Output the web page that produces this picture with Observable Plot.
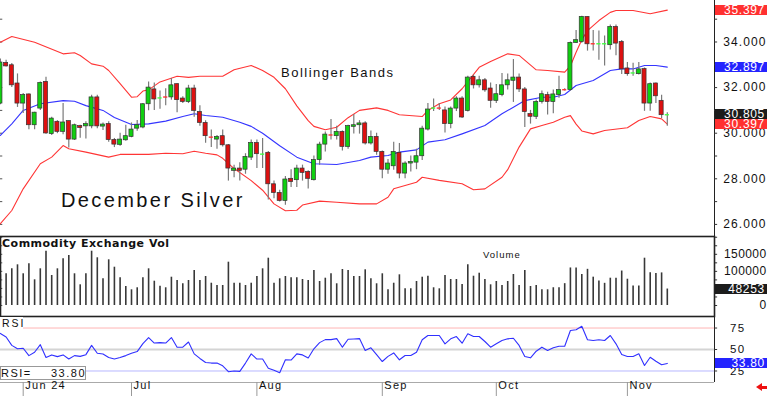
<!DOCTYPE html>
<html><head><meta charset="utf-8">
<script src="https://cdn.jsdelivr.net/npm/d3@7"></script>
<script src="https://cdn.jsdelivr.net/npm/@observablehq/plot@0.6"></script>
<style>
body{margin:0;background:#fff;}
#wrap{position:relative;width:768px;height:396px;overflow:hidden;background:#fff;font-family:"Liberation Sans",Arial,sans-serif;color:#111;}
#wrap svg{position:absolute;left:0;overflow:visible;}
#price text{letter-spacing:1.1px;}
#vol text{letter-spacing:0.4px;}
#rsi text{letter-spacing:1.3px;}
.lbl{position:absolute;white-space:nowrap;}
.tag{position:absolute;left:715px;width:52px;box-sizing:border-box;padding-right:2px;height:10px;color:#fff;font-size:12px;line-height:10px;text-align:right;letter-spacing:0.7px;overflow:visible;white-space:nowrap;}
</style></head><body><div id="wrap"></div>
<script>
// ---- data (bar k = trading day; k=4 is first June bar) ----
const open = [31.30,33.08,32.98,32.18,
31.30,31.70,30.35,31.08,32.25,29.96,30.50,30.06,30.53,29.72,
30.31,30.30,30.30,31.57,30.29,30.40,29.70,29.49,29.69,29.84,
30.20,30.25,31.27,31.92,31.50,31.58,31.57,32.15,31.52,31.37,
31.96,30.93,30.45,29.83,29.72,29.87,29.47,28.35,28.45,28.40,
28.93,29.57,29.04,29.14,27.76,27.38,27.03,28.00,27.94,28.45,
28.30,27.94,28.82,29.50,29.93,29.87,30.06,29.40,30.28,30.35,
30.43,29.55,29.84,29.18,28.40,28.55,29.14,28.23,28.67,28.71,
28.99,30.16,31.06,31.10,31.00,30.40,31.08,31.52,30.98,32.47,
32.10,32.32,31.96,31.42,31.67,32.10,32.30,32.44,31.92,30.84,
30.72,31.37,31.67,31.37,31.67,31.90,31.89,33.96,34.00,35.10,
33.92,33.88,33.88,33.86,34.66,34.00,32.84,32.60,32.59,32.81,
31.30,32.18,31.42,30.77];
const high = [33.25,33.20,33.06,32.60,
31.74,31.72,30.92,32.25,32.45,30.70,30.55,31.30,30.53,30.40,
30.35,30.50,31.67,31.67,30.45,30.50,29.77,30.00,30.35,30.45,
30.56,31.30,32.25,32.20,31.85,31.95,32.40,32.17,31.60,32.10,
32.10,31.20,30.55,30.14,29.90,30.14,29.50,28.60,28.70,29.10,
29.70,29.70,29.77,29.20,27.90,27.50,28.10,28.40,28.60,28.60,
28.35,29.00,29.60,30.05,30.60,30.30,30.10,30.35,30.82,30.55,
30.50,30.10,30.00,29.22,28.85,29.60,29.55,28.75,29.00,29.30,
30.30,31.30,31.50,31.30,31.15,31.15,31.60,31.60,32.50,32.55,
32.50,32.40,32.20,32.14,32.62,32.60,33.23,32.60,32.00,31.00,
31.46,31.85,31.80,31.90,32.50,31.95,34.00,34.50,35.13,35.10,
34.50,34.48,34.26,34.75,34.75,34.07,33.10,33.07,33.10,32.86,
32.20,32.20,31.66,30.90];
const low = [31.25,32.90,32.00,31.13,
30.86,30.15,30.15,31.00,29.95,29.90,29.98,29.93,29.35,29.68,
29.78,29.75,30.20,30.20,30.12,29.60,29.37,29.43,29.65,29.80,
30.09,30.20,30.98,31.00,31.05,31.20,31.45,30.90,31.30,31.30,
30.70,30.30,29.56,29.37,29.30,29.40,27.90,28.05,27.90,28.20,
28.80,28.45,28.45,27.07,27.13,26.98,26.84,27.62,27.62,27.90,
27.55,27.90,28.60,29.18,29.70,29.70,29.22,29.30,29.96,29.96,
29.48,29.48,29.03,28.00,28.20,28.38,28.00,28.00,28.30,28.40,
28.80,30.10,30.95,31.00,30.01,30.20,30.95,30.64,30.93,31.94,
31.98,31.80,31.10,31.30,31.60,31.90,31.35,31.78,30.25,30.40,
30.60,31.28,30.80,30.85,31.53,31.85,31.84,33.93,33.95,33.60,
33.60,33.20,32.95,33.65,33.40,32.57,32.50,32.50,32.55,30.96,
30.96,31.30,30.64,30.30];
const close = [33.10,32.93,32.10,31.30,
31.67,30.35,30.90,32.20,29.99,30.64,30.06,30.47,29.72,30.35,
30.23,30.40,31.57,30.30,30.38,29.70,29.50,29.72,29.87,30.16,
30.35,31.27,32.00,31.48,31.55,31.55,32.10,31.45,31.37,31.96,
30.98,30.45,29.87,29.78,29.84,29.47,28.45,28.45,28.35,28.96,
29.57,29.08,29.08,27.76,27.38,27.03,27.97,27.86,28.45,28.26,
28.00,28.82,29.50,29.94,29.87,30.06,29.40,30.31,30.35,30.43,
29.55,29.84,29.18,28.40,28.67,29.18,28.23,28.67,28.74,28.99,
30.20,31.04,31.10,31.06,30.40,31.08,31.52,30.69,32.44,32.10,
32.32,31.88,31.42,31.71,32.10,32.32,32.44,31.92,30.93,30.72,
31.37,31.71,31.37,31.70,31.89,31.87,33.96,34.08,35.10,33.90,
33.88,33.92,33.92,34.66,33.93,32.80,32.59,32.64,32.80,31.30,
32.15,31.62,30.79,30.805];
const volume = [90000,92900,107500,119200,
92900,122200,75300,107500,159100,87900,107500,136800,146500,92900,
60600,92900,159100,139800,78200,133900,112200,81100,55700,46000,
51900,81100,107500,71200,56500,51900,82900,73300,63600,73300,
102600,73300,85000,65300,58600,58600,126900,65300,65300,58600,
65300,85000,107500,138600,65300,78200,85000,81100,81100,76200,
73300,102600,70300,80000,92900,63600,105500,102600,85000,85000,
104600,78200,63600,92900,46000,65300,89900,48900,48900,70300,
82900,85800,51900,48900,87900,76200,76200,61500,119200,85800,
94600,76200,60600,70300,58600,70300,90800,58600,102600,55700,
58600,46000,46000,52000,52000,64000,110000,110000,91000,106000,
83000,72000,65000,80000,80000,101000,77000,57000,57000,138600,
96000,94000,95500,48253];
const rsi = [68.7,64.6,54.8,50.8,
51.5,42.9,46.8,55.6,40.8,43.7,41.7,43.7,38.9,42.9,
42.0,44.0,54.8,45.6,44.8,40.8,38.9,40.8,42.9,45.6,
47.6,56.8,63.9,57.5,58.0,57.5,63.9,52.7,52.7,58.7,
44.9,39.6,34.9,34.2,34.2,31.0,24.2,25.0,24.6,34.2,
44.9,38.9,38.9,28.2,25.8,23.0,38.1,37.7,44.9,43.7,
40.1,50.8,58.0,61.5,61.5,62.7,52.7,61.9,62.3,62.7,
48.8,52.0,44.0,36.0,42.0,46.0,38.0,43.0,43.0,46.9,
61.3,66.3,66.3,66.3,56.6,62.4,65.1,57.3,68.3,65.1,
65.1,59.3,52.7,56.6,60.5,62.4,63.1,54.7,41.9,40.3,
48.0,52.7,48.8,52.0,53.8,53.8,72.1,72.9,77.1,61.3,
60.5,61.3,60.5,66.3,56.6,44.2,41.9,41.9,45.0,31.4,
41.0,36.4,32.2,33.8];
// Bollinger bands: [bar, value]
const upperBand = [[0,33.99],[2,34.24],[6,33.99],[11,33.48],[13,33.53],[14,33.41],[16,33.04],[18,32.94],[19,32.75],[21,32.17],[23,31.58],[24,31.6],[25,31.85],[26,31.9],[28,32.25],[31,32.5],[33,32.45],[35,32.5],[39,32.5],[41,32.78],[44,32.97],[46,32.75],[48,32.45],[50,31.95],[52,31.2],[54,30.55],[55,30.3],[57,30.15],[59,30.26],[61,30.68],[63,31.0],[66,31.11],[68,31.0],[70,30.81],[74,30.73],[75,31.0],[77,31.29],[79,31.46],[81,31.95],[84,32.89],[86,33.14],[89,33.48],[91,33.41],[94,32.78],[96,32.75],[99,32.68],[100,32.95],[101,33.55],[102,34.1],[103,34.5],[105,34.94],[107,35.3],[108,35.38],[111,35.38],[114,35.24],[117,35.397]];
const middleBand = [[0,29.9],[2,30.41],[4,31.0],[7,31.29],[11,31.43],[13,31.4],[15,31.21],[18,31.0],[20,30.69],[23,30.38],[26,30.41],[29,30.53],[32,30.73],[34,30.85],[36,30.78],[39,30.7],[42,30.48],[44,30.3],[46,30.0],[49,29.45],[52,28.95],[55,28.66],[59,28.63],[63,28.8],[65,28.95],[68,29.02],[70,29.17],[73,29.27],[75,29.61],[78,29.71],[81,29.97],[85,30.34],[88,30.85],[90,31.14],[92,31.43],[95,31.58],[97,31.58],[99,31.7],[101,32.09],[104,32.31],[107,32.75],[109,32.82],[111,32.82],[113,32.97],[115,32.97],[117,32.897]];
const lowerBand = [[0,26.03],[2,26.61],[4,27.56],[7,28.66],[9,28.95],[11,29.46],[12,29.32],[15,29.17],[19,28.95],[21,29.07],[26,29.07],[29,29.12],[32,29.1],[34,29.21],[36,29.12],[38,29.05],[39,28.9],[41,28.45],[44,27.92],[46,27.5],[48,26.9],[50,26.6],[52,26.62],[53,26.85],[56,27.02],[59,26.97],[63,26.9],[66,26.9],[68,27.19],[69,27.56],[73,27.85],[74,28.07],[77,27.93],[81,27.78],[83,27.52],[85,27.56],[88,28.07],[89,28.4],[91,29.39],[93,30.19],[95,30.34],[97,30.48],[99,30.7],[100,30.77],[101,30.4],[102,30.1],[104,29.97],[106,30.12],[110,30.24],[112,30.56],[114,30.73],[116,30.63],[117,30.397]];
const monthTicks = [4,23,45,67,87,110];
const monthLabels = ["Jun 24","Jul","Aug","Sep","Oct","Nov"];
const priceTicks = [26,28,30,32,34];
const volumeTicks = [0,100000,150000];
const rsiTicks = [25,50,75];
const lastUpper = 35.397, lastMiddle = 32.897, lastClose = 30.805, lastLower = 30.397;
const lastVolume = 48253, lastRsi = 33.80;

// ---- build ----
const bars = open.map((o,k)=>({k, open:o, high:high[k], low:low[k], close:close[k], volume:volume[k], rsi:rsi[k]}));
const xDomain = [0.0175, 125.28];
const xMax = xDomain[1], xMin = xDomain[0];
const font = "Liberation Sans, Arial, sans-serif";
const GREEN="#10d010", RED="#dd1010";
const isDoji = d => Math.abs(d.close-d.open) < 0.06;

const pricePlot = Plot.plot({
  width:768, height:236, marginLeft:0, marginRight:54, marginTop:0, marginBottom:0,
  style:{background:"transparent", overflow:"visible", fontFamily:font},
  x:{domain:xDomain, axis:null, label:null},
  y:{domain:[25.47,35.82], axis:null, label:null},
  marks:[
    Plot.ruleX([xMax],{stroke:"#222", strokeWidth:1}),
    Plot.ruleY(d3.range(26,36),{y:d=>d, x1:xMax, x2:xMax+0.55, stroke:"#333"}),
    Plot.ruleY(d3.range(26,36),{y:d=>d, x1:xMin, x2:xMin+0.4, stroke:"#555"}),
    Plot.line(upperBand,{x:d=>d[0], y:d=>d[1], stroke:"#ff3535", strokeWidth:1.1}),
    Plot.line(lowerBand,{x:d=>d[0], y:d=>d[1], stroke:"#ff3535", strokeWidth:1.1}),
    Plot.line(middleBand,{x:d=>d[0], y:d=>d[1], stroke:"#3535ff", strokeWidth:1.1}),
    Plot.ruleX(bars,{x:"k", y1:"low", y2:"high", stroke:"#7a7a7a", strokeWidth:1.2}),
    Plot.rect(bars.filter(d=>!isDoji(d)),{x1:d=>d.k-0.36, x2:d=>d.k+0.36, y1:"open", y2:"close",
      fill:d=>d.close>=d.open?GREEN:RED, stroke:"#333", strokeWidth:0.7}),
    Plot.rect(bars.filter(isDoji),{x1:d=>d.k-0.36, x2:d=>d.k+0.36, y1:d=>(d.open+d.close)/2-0.03, y2:d=>(d.open+d.close)/2+0.03,
      fill:d=>d.close>=d.open?"#40ff40":"#ff3030"}),
    Plot.text(priceTicks,{x:()=>xMax, y:d=>d, text:d=>d.toFixed(3), dx:52, textAnchor:"end", fontSize:12, fill:"#111"})
  ]
});
pricePlot.id="price"; pricePlot.style.top="0px";

const volPlot = Plot.plot({
  width:768, height:80, marginLeft:0, marginRight:54, marginTop:0, marginBottom:0,
  style:{background:"transparent", overflow:"visible", fontFamily:font},
  x:{domain:xDomain, axis:null, label:null},
  y:{domain:[-32230,202170], axis:null, label:null},
  marks:[
    Plot.ruleY(d3.range(0,200001,25000),{y:d=>d, x1:xMax, x2:xMax+0.55, stroke:"#333"}),
    Plot.ruleY(d3.range(0,200001,25000),{y:d=>d, x1:xMin, x2:xMin+0.4, stroke:"#555"}),
    Plot.ruleX(bars,{x:"k", y1:0, y2:"volume", stroke:"#383838", strokeWidth:1.6}),
    Plot.frame({stroke:"#222", strokeWidth:1.6}),
    Plot.text(volumeTicks,{x:()=>xMax, y:d=>d, text:d=>String(d), dx:52, textAnchor:"end", fontSize:12, fill:"#111"})
  ]
});
volPlot.id="vol"; volPlot.style.top="236px";

const rsiDomain=[11.6,88.4];
const rsiPlot = Plot.plot({
  width:768, height:80, marginLeft:0, marginRight:54, marginTop:0, marginBottom:14,
  style:{background:"transparent", overflow:"visible", fontFamily:font},
  x:{domain:xDomain, axis:null, label:null},
  y:{domain:rsiDomain, axis:null, label:null},
  marks:[
    Plot.ruleY([75],{stroke:"#ffb4b4"}),
    Plot.ruleY([50],{stroke:"#d4d4d4", strokeWidth:2}),
    Plot.ruleY([25],{stroke:"#b8b8ff"}),
    Plot.line(bars,{x:"k", y:"rsi", stroke:"#3030ff", strokeWidth:1.1}),
    Plot.ruleX([xMax],{stroke:"#222"}),
    Plot.ruleY([rsiDomain[0]],{stroke:"#aaa"}),
    Plot.ruleY(rsiTicks,{y:d=>d, x1:xMax, x2:xMax+0.55, stroke:"#333"}),
    Plot.axisX(monthTicks,{tickSize:14, tickFormat:()=>"", label:null, stroke:"#999"}),
    Plot.text(monthTicks,{x:d=>d, text:(d,i)=>monthLabels[i], frameAnchor:"bottom", dy:6, dx:2, textAnchor:"start", fontSize:11, fill:"#111"}),
    Plot.text(rsiTicks,{x:()=>xMax, y:d=>d, text:d=>String(d), dx:31, textAnchor:"end", fontSize:11.5, fill:"#111"})
  ]
});
rsiPlot.id="rsi"; rsiPlot.style.top="316px";

const wrap=document.getElementById("wrap");
wrap.append(pricePlot, volPlot, rsiPlot);

function label(text, css){ const d=document.createElement("div"); d.className="lbl"; d.textContent=text; Object.assign(d.style, css); wrap.append(d); return d; }
label("December Silver",{left:"61px", top:"190px", fontSize:"20px", lineHeight:"20px", letterSpacing:"2.4px"});
label("Bollinger Bands",{left:"281px", top:"66px", fontSize:"13px", lineHeight:"13px", letterSpacing:"1.5px"});
label("Commodity Exchange Vol",{left:"2px", top:"238px", fontSize:"11px", lineHeight:"11px", fontWeight:"bold", fontFamily:"DejaVu Sans", letterSpacing:"0.5px"});
label("Volume",{left:"483px", top:"250px", fontSize:"9.5px", lineHeight:"10px", letterSpacing:"1px"});
label("RSI",{left:"0px", top:"317px", width:"21px", paddingLeft:"2px", height:"13px", fontSize:"10.5px", lineHeight:"12px", letterSpacing:"2px", background:"#fff"});
label("",{left:"0px", top:"366px", width:"86px", height:"14px", border:"1px solid #999", background:"#fff", boxSizing:"border-box"});
label("RSI=",{left:"1px", top:"367px", fontSize:"11px", lineHeight:"13px", letterSpacing:"1.5px"});
label(lastRsi.toFixed(2),{left:"40px", width:"46px", textAlign:"right", top:"367px", fontSize:"11px", lineHeight:"13px", letterSpacing:"1.5px"});

function tag(plot, top, value, text, color, shift){
  const y = plot.scale("y").apply(value) + top + (shift||0);
  const d=document.createElement("div"); d.className="tag"; d.textContent=text;
  d.style.top=(y-5)+"px"; d.style.background=color; wrap.append(d);
}
tag(pricePlot,0,lastUpper,lastUpper.toFixed(3),"#ff3030");
tag(pricePlot,0,lastMiddle,lastMiddle.toFixed(3),"#2424ff");
tag(pricePlot,0,lastLower,lastLower.toFixed(3),"#ff3030", 0.5);
tag(pricePlot,0,lastClose,lastClose.toFixed(3),"#1c1c1c", -0.8);
tag(volPlot,236,lastVolume,String(lastVolume),"#1c1c1c");
tag(rsiPlot,316,lastRsi,lastRsi.toFixed(2),"#2424ff");

// small red arrow at bottom right
const ah=document.createElement("div");
Object.assign(ah.style,{position:"absolute",left:"756px",top:"383px",width:"0",height:"0",borderTop:"4px solid transparent",borderBottom:"4px solid transparent",borderRight:"6px solid #ee1111"});
const ab=document.createElement("div");
Object.assign(ab.style,{position:"absolute",left:"761px",top:"385.5px",width:"6px",height:"3px",background:"#ee1111"});
wrap.append(ah,ab);
</script></body></html>
